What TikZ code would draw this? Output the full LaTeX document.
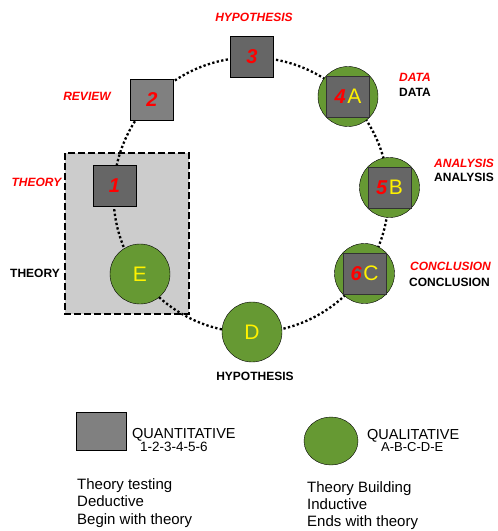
\documentclass[tikz,border=0pt]{standalone}
\usepackage{fontspec}
\setmainfont{Liberation Sans}

\definecolor{qualgreen}{HTML}{669933}
\definecolor{quantdark}{HTML}{666666}
\definecolor{quantmid}{HTML}{808080}
\definecolor{theoryfill}{HTML}{CCCCCC}

% red step number and yellow letter
\newcommand{\stepnum}[1]{{\color{red}\fontsize{20}{24}\selectfont\bfseries\itshape #1}}
\newcommand{\stepltr}[1]{{\color{yellow}\fontsize{21}{24}\selectfont #1}}

\tikzset{
  quantbox/.style={draw, fill=quantdark, minimum width=43pt, minimum height=41pt, inner sep=0pt},
  qualdisc/.style={circle, draw, fill=qualgreen, minimum size=60pt, inner sep=0pt},
  redlbl/.style={text=red, font=\fontsize{12}{14}\selectfont\bfseries\itshape, inner sep=0pt},
  blklbl/.style={font=\fontsize{12}{14}\selectfont\bfseries, inner sep=0pt},
  legtxt/.style={font=\fontsize{15}{18}\selectfont, inner sep=0pt, anchor=base west},
  loopline/.style={line width=2.3pt, dash pattern=on 2.3pt off 2.3pt},
  theorybox/.style={fill=theoryfill, line width=2pt, dash pattern=on 7pt off 3pt}
}

\begin{document}
\begin{tikzpicture}[x=1pt,y=-1pt]
    \useasboundingbox (0,0) rectangle (498,531);

    \draw[theorybox] (65,153) rectangle (189,314);
    \coordinate (ctr) at (251,195);
    \draw[loopline] (ctr) circle[radius=137.5pt];

    % quantitative steps
    \node[quantbox] (q1) at (114.5,186) {\stepnum{1}};
    \node[quantbox, fill=quantmid] (q2) at (152,100) {\stepnum{2}};
    \node[quantbox] (q3) at (252,57) {\stepnum{3}};

    % mixed steps
    \node[qualdisc] (ca) at (348,96.5) {};
    \node[quantbox, draw=black!80] (q4) at (ca) {\stepnum{4}\,\stepltr{A}};
    \node[qualdisc] (cb) at (389.5,187.5) {};
    \node[quantbox, draw=black!80] (q5) at (cb) {\stepnum{5}\,\stepltr{B}};
    \node[qualdisc] (cc) at (364.5,273.5) {};
    \node[quantbox, draw=black!80] (q6) at (cc) {\stepnum{6}\,\stepltr{C}};

    % qualitative steps
    \node[qualdisc] (cd) at (252,332) {\stepltr{D}};
    \node[qualdisc] (ce) at (140,274) {\stepltr{E}};

    % labels
    \node[redlbl, anchor=base] (lhyp) at (254,21.7) {HYPOTHESIS};
    \node[redlbl, anchor=base] (lrev) at (87,100.7) {REVIEW};
    \node[redlbl, anchor=base] (lthe) at (36.5,186.5) {THEORY};
    \node[blklbl, anchor=base] (bthe) at (35,277.3) {THEORY};
    \node[redlbl, anchor=base west] (ldat) at (399,81.7) {DATA};
    \node[blklbl, anchor=base west] (bdat) at (399,96.5) {DATA};
    \node[redlbl, anchor=base west] (lana) at (434,167.3) {ANALYSIS};
    \node[blklbl, anchor=base west] (bana) at (434,181.7) {ANALYSIS};
    \node[redlbl, anchor=base west] (lcon) at (410,270.7) {CONCLUSION};
    \node[blklbl, anchor=base west] (bcon) at (409,286) {CONCLUSION};
    \node[blklbl, anchor=base] (bhyp) at (255,380) {HYPOTHESIS};

    % legend
    \node[draw, fill=quantmid, minimum width=50pt, minimum height=38pt, inner sep=0pt] (legq) at (101,431) {};
    \node[legtxt, font=\fontsize{14.5}{17}\selectfont] (quant) at (132,438) {QUANTITATIVE};
    \node[legtxt, font=\fontsize{13.5}{16}\selectfont] (qseq) at (140,451.7) {1-2-3-4-5-6};
    \node[legtxt] (qt1) at (77,489.3) {Theory testing};
    \node[legtxt] (qt2) at (77,506.7) {Deductive};
    \node[legtxt] (qt3) at (77,524.3) {Begin with theory};

    \draw[fill=qualgreen] (331,441) ellipse[x radius=27pt, y radius=24pt];
    \node[legtxt, font=\fontsize{14.5}{17}\selectfont] (qual) at (367,439) {QUALITATIVE};
    \node[legtxt, font=\fontsize{13}{16}\selectfont] (lseq) at (381,451.7) {A-B-C-D-E};
    \node[legtxt] (lt1) at (307,492.7) {Theory Building};
    \node[legtxt] (lt2) at (307,509.3) {Inductive};
    \node[legtxt] (lt3) at (307,526.7) {Ends with theory};
\end{tikzpicture}
\end{document}
